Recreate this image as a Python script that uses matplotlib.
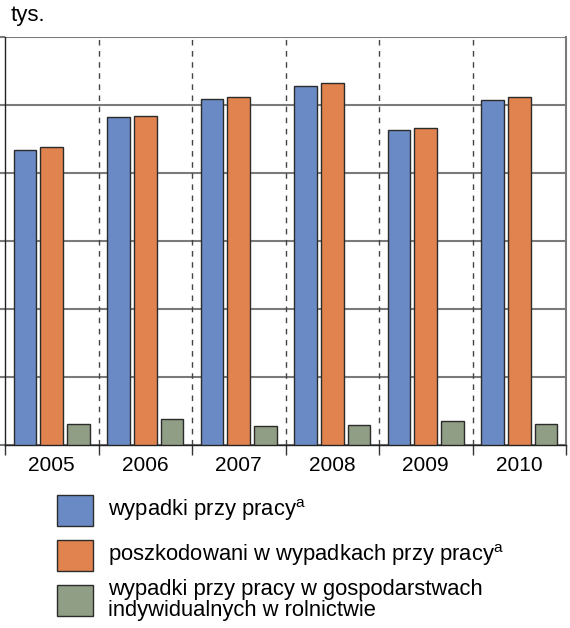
import numpy as np
import matplotlib.pyplot as plt
from matplotlib.patches import Rectangle

plt.rcParams['font.family'] = ['Liberation Sans', 'DejaVu Sans']
plt.rcParams['mathtext.fontset'] = 'custom'
plt.rcParams['mathtext.rm'] = 'Liberation Sans'

# dane (tys.)
lata = ["2005", "2006", "2007", "2008", "2009", "2010"]
wypadki = [86.7, 96.4, 101.7, 105.6, 92.6, 101.4]
poszkodowani = [87.6, 96.7, 102.4, 106.4, 93.2, 102.3]
rolnictwo = [6.1, 7.6, 5.5, 5.8, 7.1, 6.3]

etykiety = [
    "wypadki przy pracy$^{\\mathrm{a}}$",
    "poszkodowani w wypadkach przy pracy$^{\\mathrm{a}}$",
    "wypadki przy pracy w gospodarstwach\nindywidualnych w rolnictwie",
]
kolory = ["#6a8ac6", "#e0834f", "#8f9e84"]

fig = plt.figure(figsize=(5.7, 6.28), dpi=100)
ax = fig.add_axes([5 / 570, 183 / 628, 561 / 570, 408 / 628])

x = np.arange(len(lata))
szer = 0.245
odst = 0.286

for i, seria in enumerate([wypadki, poszkodowani, rolnictwo]):
    ax.bar(x + (i - 1) * odst, seria, width=szer, color=kolory[i],
           edgecolor="#2b2b2b", linewidth=1, zorder=3)

ax.set_xlim(-0.5, len(lata) - 0.5)
ax.set_ylim(0, 120)

# siatka pozioma
ax.set_yticks(np.arange(0, 121, 20))
ax.set_yticklabels([])
ax.tick_params(axis="y", length=5, color="#7a7a7a", width=1.5)
ax.grid(axis="y", color="#7a7a7a", linewidth=1.5, zorder=1)

# linie przerywane miedzy latami
for g in range(1, len(lata)):
    ax.axvline(g - 0.5, color="#444444", linestyle=(0, (4, 4)),
               linewidth=1, zorder=2)

ax.set_xticks(np.arange(-0.5, len(lata), 1.0))
ax.set_xticklabels([])
ax.tick_params(axis="x", which="major", length=7, width=1, color="#333333")
ax.set_xticks(x, minor=True)
ax.set_xticklabels(lata, minor=True, fontsize=15)
ax.tick_params(axis="x", which="minor", length=0, pad=8)

ax.spines["top"].set_visible(False)
ax.spines["right"].set_color("#7a7a7a")
ax.spines["right"].set_linewidth(1.5)
ax.spines["left"].set_color("#222222")
ax.spines["left"].set_linewidth(1)
ax.spines["bottom"].set_color("#222222")
ax.spines["bottom"].set_linewidth(1)

fig.text(11 / 570, 1 - 15 / 628, "tys.", fontsize=16, va="center", ha="left")

# legenda
pozycje = [510, 555, 600]
for etk, kol, yc in zip(etykiety, kolory, pozycje):
    fig.add_artist(Rectangle((57 / 570, 1 - (yc + 15.5) / 628), 36 / 570, 31 / 628,
                             facecolor=kol, edgecolor="#2b2b2b", linewidth=1,
                             transform=fig.transFigure))
    fig.text(108 / 570, 1 - yc / 628, etk, fontsize=15.8, va="center", ha="left",
             linespacing=1.0)

fig.savefig("out.png", dpi=100)
